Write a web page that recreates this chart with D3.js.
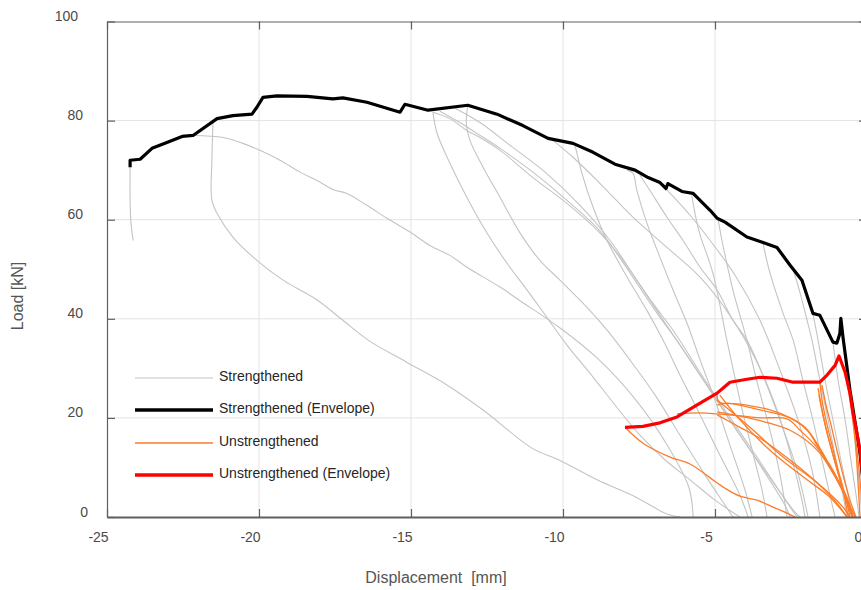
<!DOCTYPE html>
<html><head><meta charset="utf-8">
<script src="https://cdn.jsdelivr.net/npm/d3@7"></script>
<style>
body{margin:0;background:#fff;}
svg{display:block;font-family:"Liberation Sans",Arial,Helvetica,sans-serif;}
</style>
</head><body>
<svg id="chart" width="861" height="590"></svg>
<script>
// ---------- data ----------
const xTicks = [-25, -20, -15, -10, -5, 0];
const yTicks = [0, 20, 40, 60, 80, 100];
const xLabel = "Displacement  [mm]";
const yLabel = "Load [kN]";
const seriesNames = ["Strengthened", "Strengthened (Envelope)", "Unstrengthened", "Unstrengthened (Envelope)"];

const strengthenedEnvelope = [[-24.24,70.6],[-24.24,72.0],[-23.91,72.2],[-23.52,74.4],[-23.03,75.6],[-22.53,76.8],[-22.17,77.0],[-21.38,80.4],[-20.86,81.0],[-20.23,81.3],[-20.07,82.7],[-19.87,84.7],[-19.41,85.0],[-18.42,84.9],[-17.57,84.4],[-17.24,84.6],[-16.45,83.7],[-15.36,81.7],[-15.20,83.3],[-14.44,82.1],[-13.13,83.1],[-12.17,81.3],[-11.32,79.0],[-10.49,76.4],[-9.67,75.4],[-9.01,73.6],[-8.29,71.2],[-7.63,70.0],[-7.20,68.5],[-6.81,67.5],[-6.61,66.3],[-6.55,67.3],[-6.09,65.7],[-5.72,65.3],[-5.16,61.9],[-4.93,60.3],[-4.67,59.5],[-3.95,56.5],[-3.42,55.4],[-2.96,54.4],[-2.53,50.8],[-2.14,47.8],[-1.78,41.1],[-1.55,40.7],[-1.12,35.3],[-0.99,35.1],[-0.89,37.1],[-0.86,40.1],[-0.79,36.3],[-0.56,25.6],[-0.39,19.0],[-0.23,12.9],[-0.10,5.4],[-0.03,0]];

const unstrengthenedEnvelope = [[-7.96,18.1],[-7.37,18.3],[-6.81,19.0],[-6.25,20.2],[-5.49,23.0],[-4.93,25.0],[-4.74,26.0],[-4.51,27.2],[-3.95,27.8],[-3.52,28.2],[-2.96,28.0],[-2.43,27.2],[-1.55,27.2],[-1.32,28.6],[-1.05,30.6],[-0.92,32.5],[-0.72,29.2],[-0.56,25.0],[-0.46,21.0],[-0.33,16.9],[-0.23,13.5],[-0.13,7.5],[-0.07,0]];

const strengthenedCycles = [
  [[-24.24,70.6],[-24.24,63.9],[-24.21,59.3],[-24.14,55.8]],
  [[-22.17,77.0],[-21.18,76.6],[-20.53,75.4],[-19.97,74.0],[-19.31,72.0],[-18.65,69.6],[-18.09,67.9],[-17.57,66.1],[-17.11,65.3],[-16.45,62.9],[-15.79,60.3],[-15.03,57.5],[-14.38,54.8],[-13.72,52.8],[-13.16,50.4],[-12.07,46.4],[-11.45,43.8],[-10.13,38.3],[-8.88,32.1],[-7.60,23.6],[-6.61,14.9],[-5.86,6.0],[-5.72,0]],
  [[-21.51,80.0],[-21.55,72.0],[-21.55,63.9],[-21.38,61.3],[-20.86,56.5],[-20.07,51.8],[-19.21,47.8],[-18.09,43.8],[-17.24,39.7],[-16.41,35.7],[-15.16,31.3],[-13.91,27.0],[-12.63,21.6],[-11.02,13.9],[-10.13,11.5],[-8.88,7.5],[-7.60,4.0],[-6.58,0.6],[-6.15,0]],
  [[-14.28,81.7],[-14.14,77.4],[-13.72,71.4],[-13.16,64.5],[-12.50,57.3],[-11.84,51.2],[-11.18,45.8],[-10.53,40.3],[-9.87,34.7],[-9.11,29.0],[-8.29,22.6],[-7.47,16.5],[-6.64,11.5],[-5.82,7.5],[-5.00,3.4],[-4.18,0]],
  [[-13.13,83.1],[-13.18,79.4],[-13.06,76.0],[-12.63,70.6],[-12.07,64.5],[-11.41,57.3],[-10.76,51.8],[-10.10,47.8],[-9.21,42.3],[-8.55,37.7],[-7.80,31.7],[-6.97,24.6],[-6.15,16.5],[-5.33,8.5],[-4.67,2.4],[-4.41,0]],
  [[-14.28,81.7],[-13.72,80.4],[-13.16,78.0],[-12.73,76.6],[-12.07,74.0],[-10.99,68.5],[-9.87,63.3],[-8.78,57.3],[-8.03,51.8],[-7.04,43.1],[-6.38,37.7],[-5.39,28.2],[-4.74,22.2],[-3.62,12.1],[-2.53,2.0],[-2.30,0]],
  [[-14.05,81.9],[-13.39,79.6],[-12.83,77.4],[-12.07,74.4],[-10.99,69.6],[-9.87,63.9],[-8.78,57.7],[-8.03,51.4],[-6.97,41.7],[-6.15,34.7],[-5.16,25.6],[-4.18,16.5],[-3.19,7.9],[-2.37,1.0],[-2.20,0]],
  [[-13.55,82.5],[-12.73,79.6],[-11.74,75.0],[-10.59,69.6],[-9.44,62.9],[-8.45,55.8],[-7.47,46.8],[-6.48,37.7],[-5.49,28.6],[-4.51,19.6],[-3.52,10.5],[-2.70,2.4],[-2.53,0]],
  [[-9.61,75.0],[-9.54,73.4],[-9.38,69.4],[-9.01,62.5],[-8.55,55.8],[-7.89,48.4],[-7.24,41.7],[-6.71,35.7],[-6.15,28.6],[-5.49,20.6],[-4.84,12.5],[-4.18,4.4],[-3.91,0]],
  [[-10.33,76.0],[-9.67,72.6],[-8.78,67.3],[-7.70,60.5],[-6.58,54.4],[-5.49,48.4],[-4.51,40.7],[-3.62,31.3],[-2.96,21.6],[-2.46,11.5],[-2.14,3.4],[-2.04,0]],
  [[-7.89,70.0],[-7.70,69.4],[-7.57,65.9],[-7.24,59.3],[-6.81,52.4],[-6.38,45.8],[-5.92,39.1],[-5.49,31.7],[-5.00,23.6],[-4.51,14.5],[-4.01,5.4],[-3.78,0]],
  [[-7.47,69.0],[-7.14,65.9],[-6.58,60.5],[-6.05,55.8],[-5.49,50.4],[-4.93,45.8],[-4.41,39.7],[-3.95,35.7],[-3.36,27.6],[-2.80,18.5],[-2.30,9.5],[-1.94,0]],
  [[-5.76,64.9],[-5.72,63.3],[-5.59,59.3],[-5.49,56.9],[-5.07,49.2],[-4.61,35.7],[-4.18,23.6],[-3.78,13.5],[-3.45,5.4],[-3.29,0]],
  [[-4.90,60.1],[-4.77,55.8],[-4.41,45.8],[-3.95,35.7],[-3.59,26.6],[-3.19,17.5],[-2.86,8.5],[-2.63,0]],
  [[-3.42,55.2],[-3.19,49.2],[-2.76,41.1],[-2.43,35.7],[-2.11,27.6],[-1.78,19.6],[-1.48,11.5],[-1.22,4.4],[-1.05,0]],
  [[-2.43,50.0],[-2.20,45.2],[-1.97,39.7],[-1.81,35.7],[-1.55,27.6],[-1.28,19.6],[-1.02,11.5],[-0.79,4.4],[-0.66,0]],
  [[-1.78,41.1],[-1.61,35.7],[-1.38,27.6],[-1.12,19.6],[-0.86,11.5],[-0.62,4.4],[-0.49,0]],
  [[-1.12,35.3],[-0.95,27.6],[-0.72,19.6],[-0.53,11.5],[-0.36,4.4],[-0.26,0]],
  [[-0.56,25.6],[-0.43,17.5],[-0.30,9.5],[-0.16,0]],
  [[-6.81,67.5],[-6.41,64.9],[-5.82,60.9],[-5.16,55.8],[-4.34,48.8],[-3.52,39.7],[-2.86,29.6],[-2.27,19.6],[-1.81,9.5],[-1.55,0]]
];

const unstrengthenedCycles = [
  [[-7.96,18.1],[-7.37,14.9],[-6.48,12.1],[-5.82,10.7],[-5.16,7.9],[-4.67,5.8],[-4.18,4.2],[-3.62,3.4],[-3.09,2.0],[-2.63,0.8],[-2.37,0]],
  [[-6.25,20.8],[-5.49,21.0],[-4.93,20.8],[-4.18,20.4],[-3.52,20.0],[-2.63,19.8],[-2.20,17.5],[-1.71,14.5],[-1.22,10.5],[-0.79,5.4],[-0.46,0]],
  [[-4.93,25.0],[-4.87,23.2],[-4.18,22.8],[-3.19,21.6],[-2.53,20.0],[-2.04,18.1],[-1.61,14.5],[-1.15,9.5],[-0.72,4.4],[-0.39,0]],
  [[-4.93,21.2],[-3.62,19.6],[-2.53,17.5],[-1.64,13.5],[-1.12,8.9],[-0.66,4.0],[-0.46,0]],
  [[-4.93,20.6],[-4.18,18.1],[-3.42,15.5],[-2.53,11.5],[-1.64,6.9],[-0.99,2.8],[-0.66,0]],
  [[-4.84,24.6],[-4.18,19.6],[-3.09,12.9],[-1.97,7.5],[-1.22,4.0],[-0.66,0]],
  [[-4.93,23.6],[-3.85,18.1],[-2.76,12.1],[-1.64,6.9],[-0.79,2.0],[-0.56,0]],
  [[-4.93,22.6],[-4.61,23.0],[-3.52,21.6],[-2.53,20.0],[-1.97,17.5],[-1.55,13.5],[-1.12,8.9],[-0.66,3.4],[-0.46,0]],
  [[-1.55,27.2],[-1.48,23.6],[-1.35,19.6],[-1.15,14.5],[-0.95,9.5],[-0.72,4.4],[-0.56,0]],
  [[-1.61,26.0],[-1.51,22.6],[-1.35,17.9],[-1.12,12.5],[-0.89,7.5],[-0.66,2.8],[-0.49,0]],
  [[-1.48,26.6],[-1.35,22.6],[-1.18,18.5],[-0.99,13.5],[-0.79,8.5],[-0.56,3.4],[-0.36,0]],
  [[-1.58,24.6],[-1.45,20.6],[-1.25,15.5],[-1.02,10.5],[-0.79,5.4],[-0.62,0]],
  [[-0.72,29.2],[-0.56,23.6],[-0.39,15.5],[-0.30,7.5],[-0.23,0]],
  [[-0.49,21.6],[-0.33,13.5],[-0.23,7.5],[-0.13,0]]
];

// ---------- drawing ----------
const svg = d3.select("#chart");
const L = 107, R = 867, T = 21.5, B = 517;
const x = d3.scaleLinear().domain([-25, 0]).range([L, R]);
const y = d3.scaleLinear().domain([0, 100]).range([B, T]);

const axisColor = "#5f5f5f";
const labelColor = "#4a4a4a";
const fontFam = '"Liberation Sans",Arial,sans-serif';

// grid
const grid = svg.append("g");
grid.selectAll(".gx").data(xTicks.slice(1, -1)).join("line")
  .attr("x1", d => x(d)).attr("x2", d => x(d)).attr("y1", T).attr("y2", B)
  .attr("stroke", "#e3e3e3").attr("stroke-width", 1);
grid.selectAll(".gy").data(yTicks.slice(1, -1)).join("line")
  .attr("y1", d => y(d)).attr("y2", d => y(d)).attr("x1", L).attr("x2", R)
  .attr("stroke", "#e3e3e3").attr("stroke-width", 1);

// curves
const smooth = d3.line().x(d => x(d[0])).y(d => y(d[1])).curve(d3.curveCatmullRom.alpha(0.5));
const straight = d3.line().x(d => x(d[0])).y(d => y(d[1]));

svg.append("g").selectAll("path").data(strengthenedCycles).join("path")
  .attr("d", smooth).attr("fill", "none").attr("stroke", "#c4c4c4").attr("stroke-width", 1.1);

svg.append("path").datum(strengthenedEnvelope).attr("d", straight)
  .attr("fill", "none").attr("stroke", "#000").attr("stroke-width", 3.2).attr("stroke-linejoin", "round");

svg.append("g").selectAll("path").data(unstrengthenedCycles).join("path")
  .attr("d", smooth).attr("fill", "none").attr("stroke", "#fb7d2a").attr("stroke-width", 1.3);

svg.append("path").datum(unstrengthenedEnvelope).attr("d", straight)
  .attr("fill", "none").attr("stroke", "#ff0000").attr("stroke-width", 3.2).attr("stroke-linejoin", "round");

// axes
function styleAxis(g) {
  g.select(".domain").attr("stroke", axisColor).attr("stroke-width", 1.2);
  g.selectAll(".tick line").attr("stroke", axisColor).attr("stroke-width", 1.2);
}
const fmt = d => String(d);
const gx = svg.append("g").attr("transform", `translate(0,${B})`)
  .call(d3.axisBottom(x).tickValues(xTicks).tickFormat(fmt).tickSizeInner(-8).tickSizeOuter(0).tickPadding(15));
styleAxis(gx);
gx.select(".domain").attr("stroke-width", 2);
gx.selectAll(".tick text").attr("dx", -9).attr("fill", labelColor).style("font-size", "14px")
  .style("font-family", fontFam);

const gy = svg.append("g").attr("transform", `translate(${L},0)`)
  .call(d3.axisLeft(y).tickValues(yTicks).tickFormat(fmt).tickSizeInner(-8).tickSizeOuter(0));
styleAxis(gy);
gy.selectAll(".tick text")
  .attr("x", d => -(14 + 5 * String(d).length)).attr("dy", null).attr("y", -1)
  .attr("fill", labelColor).style("font-size", "14px")
  .style("font-family", fontFam);

const gt = svg.append("g").attr("transform", `translate(0,${T})`)
  .call(d3.axisTop(x).tickValues(xTicks).tickSizeInner(-8).tickSizeOuter(0).tickFormat(""));
styleAxis(gt);
const gr = svg.append("g").attr("transform", `translate(${R},0)`)
  .call(d3.axisRight(y).tickValues(yTicks).tickSizeInner(-8).tickSizeOuter(0).tickFormat(""));
styleAxis(gr);

// axis titles
svg.append("text").attr("x", 436).attr("y", 583).attr("text-anchor", "middle")
  .attr("fill", "#555").style("font-size", "16px").style("white-space", "pre")
  .attr("xml:space", "preserve").text(xLabel);
svg.append("text").attr("transform", "translate(23,296) rotate(-90)").attr("text-anchor", "middle")
  .attr("fill", "#555").style("font-size", "16px").text(yLabel);

// legend
const legendStyles = [
  {color: "#c4c4c4", width: 1.2},
  {color: "#000", width: 3.6},
  {color: "#fb7d2a", width: 1.3},
  {color: "#ff0000", width: 3.6}
];
const legendY = [378, 410, 443, 475];
const lg = svg.append("g");
seriesNames.forEach((name, i) => {
  lg.append("line").attr("x1", 135).attr("x2", 213).attr("y1", legendY[i]).attr("y2", legendY[i])
    .attr("stroke", legendStyles[i].color).attr("stroke-width", legendStyles[i].width);
  lg.append("text").attr("x", 219).attr("y", legendY[i] + 3).attr("fill", "#262626")
    .style("font-size", "14px").text(name);
});
</script>
</body></html>
